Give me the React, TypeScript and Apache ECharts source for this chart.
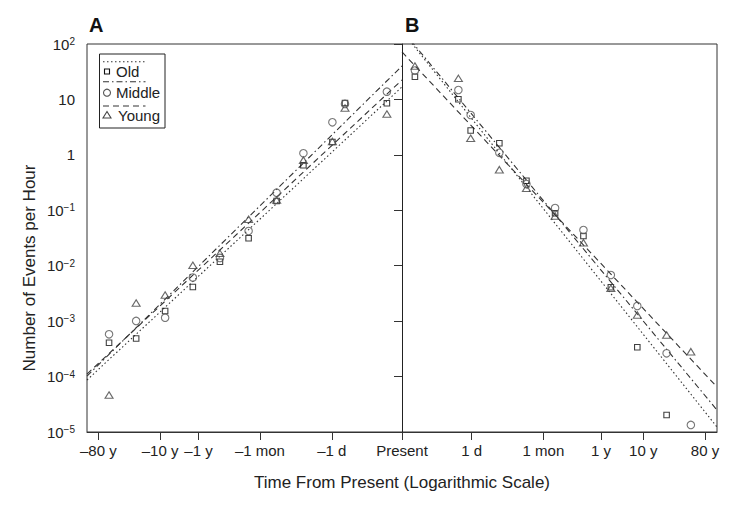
import React, { useEffect, useRef } from "react";
import * as echarts from "echarts";

// Axis tick positions (plot position along the log-time axis) and labels
const xTickValues = [-9.64, -7.68, -6.46, -4.51, -2.23, 0, 2.21, 4.49, 6.32, 7.66, 9.62];
const xTickLabels = ["–80 y", "–10 y", "–1 y", "–1 mon", "–1 d", "Present", "1 d", "1 mon", "1 y", "10 y", "80 y"];
const yTickValues = [1e-5, 1e-4, 1e-3, 1e-2, 1e-1, 1, 10, 100];

// Observed rates, past (panel A)
const pastX = [-9.3, -8.44, -7.52, -6.64, -5.78, -4.87, -3.98, -3.13, -2.21, -1.81, -0.48];
const oldPast = [4.08e-4, 4.86e-4, 1.52e-3, 4.13e-3, 1.18e-2, 3.13e-2, 0.147, 0.648, 1.71, 8.62, 8.51];
const middlePast = [5.79e-4, 1.01e-3, 1.15e-3, 6.13e-3, 1.38e-2, 4.23e-2, 0.208, 1.07, 3.87, 8.3, 13.8];
const youngPast = [4.65e-5, 2.12e-3, 2.96e-3, 1.02e-2, 1.67e-2, 6.88e-2, 0.153, 0.8, 1.75, 7.0, 5.46];

// Observed rates, future (panel B)
const futureX = [0.41, 1.79, 2.18, 3.09, 3.95, 4.86, 5.76, 6.63, 7.47, 8.4, 9.17];
const oldFuture = [25.7, 10.05, 2.75, 1.62, 0.342, 0.0883, 0.0344, 4.1e-3, 3.38e-4, 2.03e-5, null];
const middleFuture = [33.3, 14.8, 5.24, 1.09, 0.298, 0.11, 0.0441, 6.8e-3, 1.88e-3, 2.63e-4, 1.34e-5];
const youngFuture = [40.1, 24.0, 1.99, 0.54, 0.249, 0.0789, 0.026, 3.92e-3, 1.29e-3, 5.62e-4, 2.81e-4];

// Fitted power-law lines (end values)
const pastFitX = [-10, 0];
const oldFitPast = [8.67e-5, 16.8];
const middleFitPast = [1.02e-4, 40.1];
const youngFitPast = [1.11e-4, 22.4];
const futureFitX = [0, 10];
const oldFitFuture = [172, 1.23e-5];
const middleFitFuture = [179, 2.49e-5];
const youngFitFuture = [71.8, 6.49e-5];

const FONT = "'Liberation Sans', Arial, Helvetica, sans-serif";
const INK = "#222";

const DOTTED = [1.5, 2.5];
const DASHDOT = [6, 3, 1.5, 3];
const DASHED = [6, 4];

function pts(xs: number[], ys: (number | null)[]) {
  const out: number[][] = [];
  xs.forEach((x, i) => {
    const y = ys[i];
    if (y !== null && y !== undefined) out.push([x, y]);
  });
  return out;
}

function xLabel(v: number) {
  for (let i = 0; i < xTickValues.length; i++) {
    if (Math.abs(xTickValues[i] - v) < 1e-6) return xTickLabels[i];
  }
  return "";
}

function yLabel(v: number) {
  const e = Math.round(Math.log10(v));
  if (e === 0) return "1";
  if (e === 1) return "10";
  return "10{sup|" + (e < 0 ? "−" + -e : String(e)) + "}";
}

export default function App() {
  const ref = useRef<HTMLDivElement>(null);
  useEffect(() => {
    document.body.style.margin = "0";
    const chart = echarts.init(ref.current!, null, { renderer: "svg" });

    const lineSeries = (name: string, xs: number[], ys: number[], dash: number[]) => ({
      type: "line",
      name,
      data: xs.map((x, i) => [x, ys[i]]),
      showSymbol: false,
      symbol: "none",
      clip: true,
      silent: true,
      lineStyle: { color: "#333", width: 1.1, type: dash },
      z: 2,
    });

    const scatter = (name: string, data: number[][], symbol: string, size: any, color: string) => ({
      type: "scatter",
      name,
      data,
      symbol,
      symbolSize: size,
      itemStyle: { color: "rgba(255,255,255,0)", borderColor: color, borderWidth: 1.1 },
      z: 3,
    });

    const legendItems = [
      { label: "Old", dash: DOTTED, lineY: 7.7, y: 17.5, marker: "rect" },
      { label: "Middle", dash: DASHDOT, lineY: 27.7, y: 38.7, marker: "circle" },
      { label: "Young", dash: DASHED, lineY: 52, y: 61, marker: "triangle" },
    ];
    const legendChildren: any[] = [
      { type: "rect", shape: { x: 0, y: 0, width: 65.5, height: 74 }, style: { fill: "#fff", stroke: INK, lineWidth: 1 } },
    ];
    legendItems.forEach((it) => {
      legendChildren.push({
        type: "line",
        shape: { x1: 3.5, y1: it.lineY, x2: 46, y2: it.lineY },
        style: { stroke: "#333", lineWidth: 1.1, lineDash: it.dash },
      });
      if (it.marker === "rect") {
        legendChildren.push({ type: "rect", shape: { x: 5, y: it.y - 2.5, width: 5, height: 5 }, style: { fill: "none", stroke: "#111", lineWidth: 1.1 } });
      } else if (it.marker === "circle") {
        legendChildren.push({ type: "circle", shape: { cx: 7.5, cy: it.y, r: 3.5 }, style: { fill: "none", stroke: "#555", lineWidth: 1.1 } });
      } else {
        legendChildren.push({ type: "polygon", shape: { points: [[3.5, it.y + 3], [11.5, it.y + 3], [7.5, it.y - 3.5]] }, style: { fill: "none", stroke: "#444", lineWidth: 1.1 } });
      }
      legendChildren.push({
        type: "text",
        x: it.marker === "triangle" ? 18.5 : 16.5,
        y: it.y,
        style: { text: it.label, font: `15px ${FONT}`, fill: INK, verticalAlign: "middle", align: "left" },
      });
    });

    chart.setOption({
      animation: false,
      backgroundColor: "#fff",
      grid: { left: 87, right: 33, top: 44, bottom: 73, show: true, borderColor: "#333", borderWidth: 1 },
      xAxis: {
        type: "value",
        min: -10,
        max: 10,
        name: "Time From Present (Logarithmic Scale)",
        nameLocation: "middle",
        nameGap: 42,
        nameTextStyle: { fontSize: 17, fontFamily: FONT, color: INK },
        axisLine: { show: true, lineStyle: { color: "#333", width: 1 } },
        axisTick: { show: true, length: 8, lineStyle: { color: "#333" }, customValues: xTickValues },
        axisLabel: { customValues: xTickValues, formatter: (v: number) => xLabel(v), fontSize: 15, fontFamily: FONT, color: INK, margin: 11 },
        splitLine: { show: false },
      },
      yAxis: {
        type: "log",
        logBase: 10,
        min: 1e-5,
        max: 100,
        axisLine: { show: true, lineStyle: { color: "#333", width: 1 } },
        axisTick: { show: true, length: 8, lineStyle: { color: "#333" }, customValues: yTickValues },
        axisLabel: {
          customValues: yTickValues,
          formatter: (v: number) => yLabel(v),
          fontSize: 15,
          fontFamily: FONT,
          color: INK,
          margin: 12,
          rich: { sup: { fontSize: 10, fontFamily: FONT, color: INK, verticalAlign: "top", lineHeight: 10 } },
        },
        splitLine: { show: false },
        minorTick: { show: false },
      },
      graphic: [
        { type: "text", x: 89, y: 25, style: { text: "A", font: `bold 20px ${FONT}`, fill: "#111", verticalAlign: "middle" } },
        { type: "text", x: 405, y: 25, style: { text: "B", font: `bold 20px ${FONT}`, fill: "#111", verticalAlign: "middle" } },
        {
          type: "text",
          x: 29,
          y: 268,
          rotation: Math.PI / 2,
          style: { text: "Number of Events per Hour", font: `17px ${FONT}`, fill: INK, align: "center", verticalAlign: "middle" },
        },
        { type: "group", x: 99.5, y: 54, children: legendChildren, z: 100 },
      ],
      series: [
        {
          type: "line",
          data: [],
          markLine: {
            silent: true,
            symbol: "none",
            label: { show: false },
            lineStyle: { color: "#222", width: 1, type: "solid" },
            data: [{ xAxis: 0 }],
          },
        },
        lineSeries("Old fit A", pastFitX, oldFitPast, DOTTED),
        lineSeries("Middle fit A", pastFitX, middleFitPast, DASHDOT),
        lineSeries("Young fit A", pastFitX, youngFitPast, DASHED),
        lineSeries("Old fit B", futureFitX, oldFitFuture, DOTTED),
        lineSeries("Middle fit B", futureFitX, middleFitFuture, DASHDOT),
        lineSeries("Young fit B", futureFitX, youngFitFuture, DASHED),
        scatter("Old", [...pts(pastX, oldPast), ...pts(futureX, oldFuture)], "rect", 5.5, "#111"),
        scatter("Middle", [...pts(pastX, middlePast), ...pts(futureX, middleFuture)], "circle", 7.5, "#555"),
        scatter("Young", [...pts(pastX, youngPast), ...pts(futureX, youngFuture)], "triangle", [8, 6.5], "#444"),
      ],
    });
    return () => chart.dispose();
  }, []);
  return <div ref={ref} style={{ width: 750, height: 505 }} />;
}
